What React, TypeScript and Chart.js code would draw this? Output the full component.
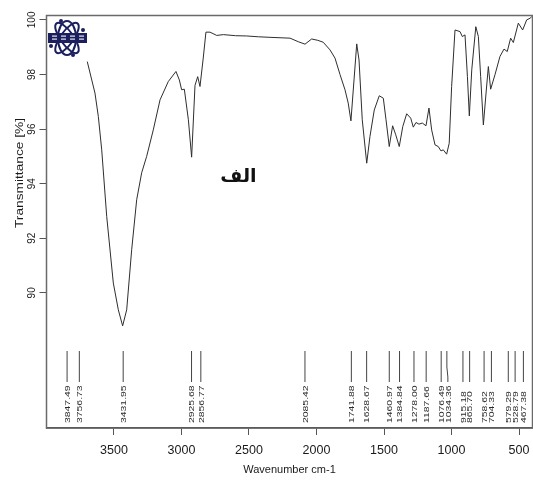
import React, { useEffect, useRef } from "react";
import { Chart, registerables } from "chart.js";

Chart.register(...registerables);

// Spectrum (wavenumber cm-1, transmittance %)
const wavenumbers = [
  3698, 3641, 3616, 3591, 3554, 3505, 3468, 3436, 3406, 3369, 3332, 3295, 3258, 3209, 3159,
  3098, 3041, 3016, 2999, 2979, 2949, 2925, 2900, 2880, 2863, 2839, 2819, 2789, 2739, 2690,
  2600, 2517, 2430, 2344, 2196, 2135, 2085, 2036, 1990, 1950, 1900, 1863, 1826, 1789, 1765,
  1745, 1722, 1702, 1685, 1661, 1628, 1604, 1572, 1535, 1505, 1485, 1461, 1436, 1413, 1387,
  1361, 1332, 1302, 1283, 1263, 1241, 1216, 1189, 1167, 1147, 1122, 1098, 1078, 1061, 1036,
  1017, 999, 974, 937, 920, 900, 882, 868, 850, 820, 801, 784, 764, 744, 727,
  710, 678, 641, 611, 587, 562, 542, 505, 473, 443, 418, 405,
];
const transmittance = [
  98.47, 97.32, 96.46, 95.24, 92.8, 90.36, 89.38, 88.79, 89.38, 91.58, 93.41, 94.4, 95.0, 95.97, 97.07,
  97.74, 98.11, 97.8, 97.44, 97.46, 96.34, 94.97, 97.6, 97.92, 97.56, 98.6, 99.55, 99.55, 99.43, 99.46,
  99.42, 99.41, 99.38, 99.36, 99.33, 99.2, 99.11, 99.3, 99.25, 99.18, 98.9, 98.6, 98.0, 97.44, 96.95,
  96.3, 97.8, 99.12, 98.53, 96.34, 94.75, 95.73, 96.7, 97.22, 97.13, 96.34, 95.36, 96.12, 95.79, 95.36,
  96.09, 96.56, 96.4, 96.07, 96.24, 96.18, 96.22, 96.12, 96.77, 95.97, 95.42, 95.36, 95.2, 95.24, 95.08,
  95.48, 97.56, 99.63, 99.57, 99.39, 99.45, 97.92, 96.48, 98.17, 99.75, 99.39, 97.92, 96.15, 97.32, 98.29,
  97.46, 97.99, 98.66, 98.93, 98.84, 99.33, 99.17, 99.88, 99.63, 100.0, 100.06, 100.12,
];

const peakLabels = [
  3847.49, 3756.73, 3431.95, 2925.68, 2856.77, 2085.42, 1741.88, 1628.67, 1460.97, 1384.84,
  1278.0, 1187.66, 1076.49, 1034.36, 915.18, 865.7, 758.62, 704.33, 579.29, 528.79, 467.38,
];

const xTicks = [500, 1000, 1500, 2000, 2500, 3000, 3500];
const yTicks = [90, 92, 94, 96, 98, 100];
const xTitle = "Wavenumber cm-1";
const yTitle = "Transmittance [%]";
const annotationText = "الف";
const annotationPos = { x: 2578, y: 94.06 };

const NARROW = "'Liberation Sans Narrow', 'Liberation Sans', Arial, sans-serif";
const SANS = "'Liberation Sans', Arial, sans-serif";

const overlay = {
  id: "overlay",
  afterDraw(chart: any) {
    const { ctx, chartArea } = chart;
    const xs = chart.scales.x;
    const ys = chart.scales.y;
    ctx.save();

    // frame
    ctx.strokeStyle = "#6a6a6a";
    ctx.lineWidth = 1.5;
    ctx.strokeRect(chartArea.left, chartArea.top, chartArea.right - chartArea.left, chartArea.bottom - chartArea.top);

    // y tick labels (rotated)
    ctx.fillStyle = "#1a1a1a";
    ctx.font = "10px " + SANS;
    ctx.textAlign = "center";
    ctx.textBaseline = "middle";
    for (const v of yTicks) {
      const py = ys.getPixelForValue(v);
      ctx.save();
      ctx.translate(32, py);
      ctx.rotate(-Math.PI / 2);
      ctx.fillText(String(v), 0, 0);
      ctx.restore();
    }

    // y title
    ctx.save();
    ctx.font = "11px " + SANS;
    const tw = ctx.measureText(yTitle).width;
    ctx.translate(19.5, 173);
    ctx.rotate(-Math.PI / 2);
    ctx.scale(110 / tw, 1);
    ctx.fillStyle = "#1a1a1a";
    ctx.fillText(yTitle, 0, 0);
    ctx.restore();

    // peak labels
    const items = peakLabels
      .map((p) => ({ p, px: xs.getPixelForValue(p) }))
      .sort((a, b) => a.px - b.px);
    let prev = -Infinity;
    const bottom = chartArea.bottom;
    for (const it of items) {
      const tx = Math.max(it.px, prev + 6.7);
      prev = tx;
      ctx.strokeStyle = "#444";
      ctx.lineWidth = 1;
      ctx.beginPath();
      ctx.moveTo(it.px, bottom - 77);
      if (Math.abs(tx - it.px) > 0.5) {
        ctx.lineTo(it.px, bottom - 61);
        ctx.lineTo(tx, bottom - 51);
      }
      ctx.lineTo(tx, bottom - 46);
      ctx.stroke();
      ctx.save();
      ctx.translate(tx, bottom - 5);
      ctx.rotate(-Math.PI / 2);
      ctx.scale(1.3, 1);
      ctx.font = "8px " + SANS;
      ctx.fillStyle = "#2a2a2a";
      ctx.textAlign = "left";
      ctx.textBaseline = "middle";
      ctx.fillText(it.p.toFixed(2), 0, 0.5);
      ctx.restore();
    }

    // Arabic annotation
    ctx.font = "bold 19px 'DejaVu Sans', sans-serif";
    ctx.fillStyle = "#111";
    ctx.textAlign = "center";
    ctx.textBaseline = "alphabetic";
    ctx.fillText(annotationText, xs.getPixelForValue(annotationPos.x), ys.getPixelForValue(annotationPos.y));

    // logo
    const cx = 67, cy = 38;
    ctx.strokeStyle = "#1b1f5e";
    ctx.lineWidth = 2;
    for (const ang of [0.95, -0.95, Math.PI / 2]) {
      ctx.beginPath();
      ctx.ellipse(cx, cy, ang === Math.PI / 2 ? 17 : 18, ang === Math.PI / 2 ? 9 : 6.5, ang, 0, Math.PI * 2);
      ctx.stroke();
    }
    ctx.fillStyle = "#1b1f5e";
    ctx.fillRect(48, 33, 39, 10);
    ctx.fillStyle = "#e8e8f0";
    for (const lx of [52, 61, 70, 79]) {
      ctx.fillRect(lx, 35.5, 5, 1.2);
      ctx.fillRect(lx, 38.5, 5, 1.2);
    }
    ctx.fillStyle = "#1b1f5e";
    for (const [dx, dy] of [[61, 21], [73, 55], [83, 30], [51, 46]]) {
      ctx.beginPath();
      ctx.arc(dx, dy, 2, 0, Math.PI * 2);
      ctx.fill();
    }
    ctx.restore();
  },
};

export default function App() {
  const ref = useRef<HTMLCanvasElement | null>(null);
  useEffect(() => {
    document.body.style.margin = "0";
    const canvas = ref.current!;
    const chart = new Chart(canvas, {
      type: "line",
      data: {
        datasets: [
          {
            data: wavenumbers.map((x, i) => ({ x, y: transmittance[i] })),
            borderColor: "#2e2e2e",
            borderWidth: 1,
            pointRadius: 0,
            tension: 0,
            fill: false,
          },
        ],
      },
      options: {
        animation: false,
        responsive: false,
        devicePixelRatio: 1,
        layout: { padding: { top: 15.5, right: 0.5, left: 0, bottom: 0 } },
        plugins: { legend: { display: false }, tooltip: { enabled: false } },
        scales: {
          x: {
            type: "linear",
            reverse: true,
            min: 400,
            max: 4000,
            afterBuildTicks: (s: any) => {
              s.ticks = xTicks.map((v) => ({ value: v }));
            },
            afterFit: (s: any) => {
              s.height = 52;
            },
            grid: { drawOnChartArea: false, drawTicks: true, tickLength: 7, color: "#555", lineWidth: 1 },
            border: { display: true, color: "#333", width: 1.5 },
            ticks: {
              color: "#1a1a1a",
              font: { family: NARROW, size: 12.5 },
              padding: 8,
              maxRotation: 0,
              autoSkip: false,
              callback: (v: any) => String(v),
            },
            title: {
              display: true,
              text: xTitle,
              color: "#1a1a1a",
              font: { family: NARROW, size: 11 },
              padding: { top: 0, bottom: 3 },
            },
          },
          y: {
            type: "linear",
            min: 85.05,
            max: 100.16,
            afterBuildTicks: (s: any) => {
              s.ticks = yTicks.map((v) => ({ value: v }));
            },
            afterFit: (s: any) => {
              s.width = 46.5;
            },
            grid: { drawOnChartArea: false, drawTicks: true, tickLength: 7, color: "#555", lineWidth: 1 },
            border: { display: true, color: "#555", width: 1 },
            ticks: { color: "rgba(0,0,0,0)", font: { size: 9 } },
          },
        },
      },
      plugins: [overlay],
    } as any);
    return () => chart.destroy();
  }, []);
  return <canvas ref={ref} width={533} height={480} style={{ display: "block" }} />;
}
